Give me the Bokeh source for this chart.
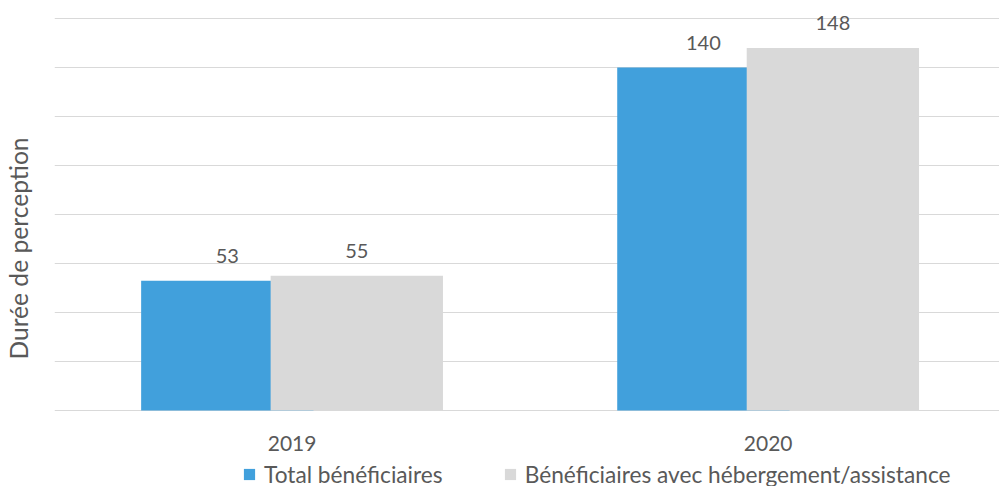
from bokeh.plotting import figure
from bokeh.models import ColumnDataSource, FixedTicker, Range1d, Legend, LegendItem
from bokeh.core.properties import value
from bokeh.embed import file_html
from bokeh.resources import INLINE

years = ["2019", "2020"]
total = [53, 140]
hebergement = [55, 148]
series_names = ["Total bénéficiaires", "Bénéficiaires avec hébergement/assistance"]
y_ticks = [0, 20, 40, 60, 80, 100, 120, 140, 160]

FONT = "Lato"
TXT = "#595959"
BLUE = "#41A0DC"
GRAY = "#D9D9D9"

xpos = list(range(len(years)))
off = 0.136
bw = 0.362

src_a = ColumnDataSource(dict(x=[v - off for v in xpos], top=total, lbl=[str(v) for v in total]))
src_b = ColumnDataSource(dict(x=[v + off for v in xpos], top=hebergement, lbl=[str(v) for v in hebergement]))
src_cat = ColumnDataSource(dict(x=xpos, y=[0] * len(years), lbl=years))

p = figure(width=999, height=486, output_backend="svg", toolbar_location=None,
           x_range=Range1d(-0.499, 1.486), y_range=Range1d(-31.02, 163.27),
           min_border_left=52, min_border_right=0, min_border_top=10, min_border_bottom=0)
p.outline_line_color = None

ra = p.vbar(x="x", top="top", width=bw, source=src_a, color=BLUE, line_color=None)
rb = p.vbar(x="x", top="top", width=bw, source=src_b, color=GRAY, line_color=None)

for s in (src_a, src_b):
    p.text(x="x", y="top", text="lbl", source=s, text_align="center", text_baseline="alphabetic",
           y_offset=-25, text_font=value(FONT), text_font_size="20px", text_color=TXT)

# category labels under the baseline
p.text(x="x", y="y", text="lbl", source=src_cat, text_align="center", text_baseline="alphabetic",
       y_offset=33, text_font=value(FONT), text_font_size="21px", text_color=TXT)

p.xaxis.visible = False
p.xgrid.visible = False
p.ygrid.ticker = FixedTicker(ticks=y_ticks)
p.ygrid.grid_line_color = GRAY
p.ygrid.grid_line_width = 1

p.yaxis.ticker = FixedTicker(ticks=y_ticks)
p.yaxis.major_label_overrides = {t: "" for t in y_ticks}
p.yaxis.major_label_text_font_size = "1px"
p.yaxis.major_tick_line_color = None
p.yaxis.minor_tick_line_color = None
p.yaxis.axis_line_color = None
p.yaxis.axis_label = "Durée de perception"
p.yaxis.axis_label_text_font = FONT
p.yaxis.axis_label_text_font_size = "24.6px"
p.yaxis.axis_label_text_font_style = "normal"
p.yaxis.axis_label_text_color = TXT
p.yaxis.axis_label_standoff = 16

legend = Legend(items=[LegendItem(label=series_names[0], renderers=[ra]),
                       LegendItem(label=series_names[1], renderers=[rb])],
                orientation="horizontal", location=(188, -1.5),
                label_text_font=FONT, label_text_font_size="22.7px", label_text_color=TXT,
                glyph_width=14, glyph_height=14, label_standoff=8, spacing=60,
                padding=0, margin=0, border_line_color=None, background_fill_alpha=0)
p.add_layout(legend, "center")

open("out.html", "w").write(file_html(p, INLINE))
